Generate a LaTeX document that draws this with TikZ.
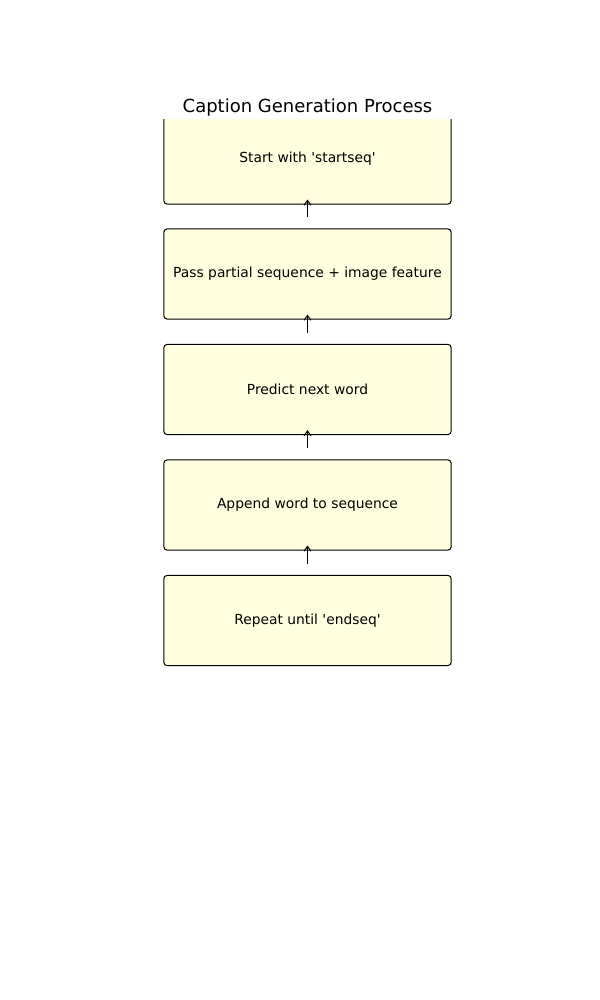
\documentclass[tikz,border=0pt]{standalone}
\usepackage{fontspec}
\setmainfont{DejaVu Sans}[Ligatures=TeXOff]
\usetikzlibrary{arrows.meta}
\definecolor{boxfill}{HTML}{FFFFE0}
\begin{document}
\begin{tikzpicture}[x=0.01in,y=-0.01in,
  stepbox/.style={draw=black, fill=boxfill, line width=0.72pt, rounded corners=2.2pt,
    minimum width=2.87in, minimum height=0.90in, inner sep=0pt, font=\fontsize{10pt}{12pt}\selectfont},
  arr/.style={line width=0.72pt, -{Straight Barb[length=3.5pt,width=5pt]}}]
\useasboundingbox (0,0) rectangle (600,1000);
\node[font=\fontsize{13pt}{15pt}\selectfont] (title) at (307.5,107.5) {Caption Generation Process};
\begin{scope}
  \clip (0,120) rectangle (600,1000);
  \node[stepbox] (b1) at (307.5,159) {};
\end{scope}
\node (t1) at (307.5,159) {\fontsize{10pt}{12pt}\selectfont Start with 'startseq'};
\node[stepbox] (b2) at (307.5,274) {Pass partial sequence + image feature};
\node[stepbox] (b3) at (307.5,389.5) {Predict next word};
\node[stepbox] (b4) at (307.5,505) {Append word to sequence};
\node[stepbox] (b5) at (307.5,620.5) {Repeat until 'endseq'};
\draw[arr] ([yshift=0.11in]b2.north) -- ([yshift=0.05in]b1.south);
\draw[arr] ([yshift=0.11in]b3.north) -- ([yshift=0.05in]b2.south);
\draw[arr] ([yshift=0.11in]b4.north) -- ([yshift=0.05in]b3.south);
\draw[arr] ([yshift=0.11in]b5.north) -- ([yshift=0.05in]b4.south);
\end{tikzpicture}
\end{document}
